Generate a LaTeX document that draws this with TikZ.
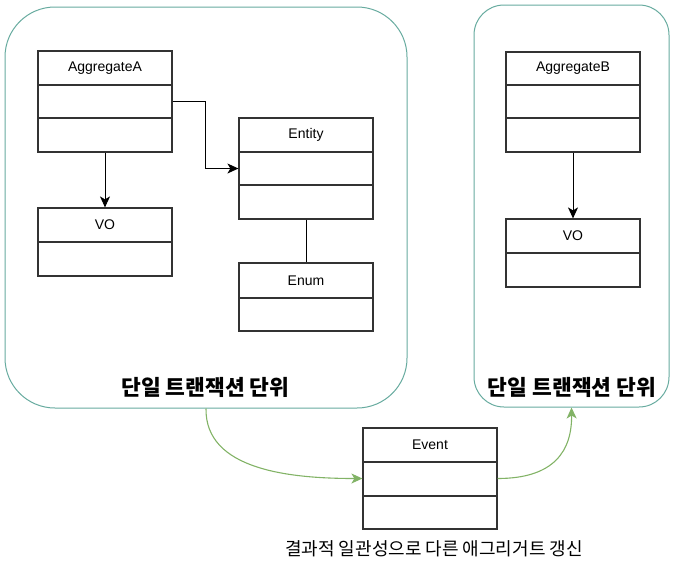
\documentclass[tikz,border=0pt]{standalone}
\usepackage{fontspec}
\setmainfont{Liberation Sans}
\newfontfamily\kr{Noto Sans CJK KR}
\usetikzlibrary{arrows.meta,calc}
\definecolor{boxline}{HTML}{333333}
\definecolor{contline}{HTML}{67AB9F}
\definecolor{flow}{HTML}{82B366}
\begin{document}
\begin{tikzpicture}[x=1pt,y=-1pt,
  container/.style={draw=contline,line width=1pt,rounded corners=#1,inner sep=0pt},
  classbox/.style={draw=boxline,line width=1.2pt,inner sep=0pt,minimum width=134pt},
  classname/.style={font=\fontsize{14}{16}\selectfont,inner sep=0pt},
  divider/.style={draw=boxline,line width=1.2pt},
  dep/.style={draw=black,line width=1pt,-{Stealth[length=11pt,width=10pt,inset=3pt]}},
  flowarrow/.style={draw=flow,line width=1.1pt,-{Stealth[length=11pt,width=10pt,inset=3pt]}},
  title/.style={font=\kr\bfseries\fontsize{21.5}{24}\selectfont,inner sep=0pt},
  caption/.style={font=\kr\fontsize{18}{20}\selectfont,inner sep=0pt}]
\useasboundingbox (0,0) rectangle (677,566);
% containers
\node[container=50pt,minimum width=402pt,minimum height=401pt] (contA) at (206,207.5) {};
\node[container=30pt,minimum width=195pt,minimum height=402pt] (contB) at (571.5,206) {};
\node[title] (titleA) at (205.5,387) {단일 트랜잭션 단위};
\node[title] (titleB) at (572,387) {단일 트랜잭션 단위};
% AggregateA
\node[classbox,minimum height=101pt] (aggA) at (105,101.5) {};
\node[classname] (aggAname) at (105,68) {AggregateA};
\draw[divider] (38,85) -- (172,85);
\draw[divider] (38,118) -- (172,118);
% VO left
\node[classbox,minimum height=68pt] (voA) at (105,242) {};
\node[classname] (voAname) at (105,225) {VO};
\draw[divider] (38,242) -- (172,242);
% Entity
\node[classbox,minimum height=101pt] (entity) at (306,168.5) {};
\node[classname] (entityname) at (306,135) {Entity};
\draw[divider] (239,152) -- (373,152);
\draw[divider] (239,185) -- (373,185);
% Enum
\node[classbox,minimum height=68pt] (enum) at (306,297) {};
\node[classname] (enumname) at (306,280.5) {Enum};
\draw[divider] (239,298) -- (373,298);
% AggregateB
\node[classbox,minimum height=100pt] (aggB) at (573,102) {};
\node[classname] (aggBname) at (573,68.5) {AggregateB};
\draw[divider] (506,85) -- (640,85);
\draw[divider] (506,118) -- (640,118);
% VO right
\node[classbox,minimum height=68pt] (voB) at (573,253) {};
\node[classname] (voBname) at (573,236) {VO};
\draw[divider] (506,253) -- (640,253);
% Event
\node[classbox,minimum height=101pt] (event) at (430,478.5) {};
\node[classname] (eventname) at (430,445) {Event};
\draw[divider] (363,462) -- (497,462);
\draw[divider] (363,496) -- (497,496);
\node[caption] (cap) at (434,549) {결과적 일관성으로 다른 애그리거트 갱신};
% connectors
\draw[dep] (aggA.east) -- ++(33,0) |- (entity.west);
\draw[dep] (aggA.south) -- (voA.north);
\draw[draw=black,line width=1pt] (entity.south) -- (enum.north);
\draw[dep] (aggB.south) -- (voB.north);
\draw[flowarrow] (contA.south) .. controls (205,470) and (290,478.5) .. (event.west);
\draw[flowarrow] (event.east) .. controls (555,478.5) and (572,450) .. (contB.south);
\end{tikzpicture}
\end{document}
